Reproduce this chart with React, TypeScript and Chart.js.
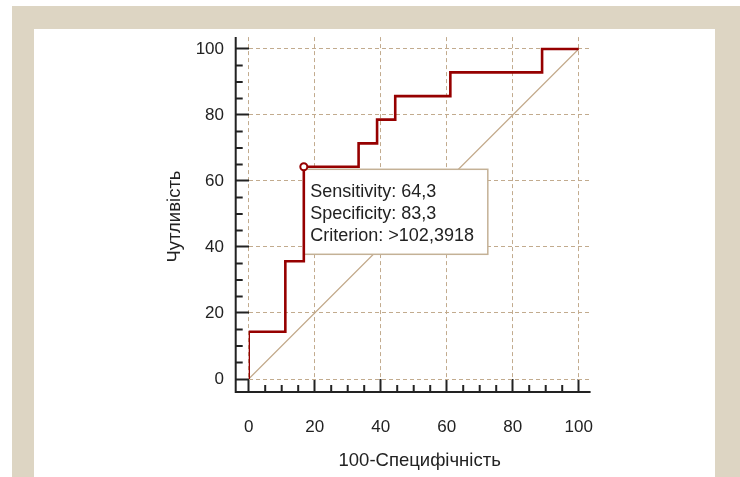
import React, { useEffect, useRef } from "react";
import { Chart, registerables } from "chart.js";

Chart.register(...registerables);

// ROC corner points (100-Specificity, Sensitivity); drawn as a step line
const rocFpr = [0, 11.1, 16.7, 33.3, 38.9, 44.4, 61.1, 88.9, 100];
const rocTpr = [0, 14.3, 35.7, 64.3, 71.4, 78.6, 85.7, 92.9, 100];
// Reference diagonal
const diagX = [0, 100];
const diagY = [0, 100];
// Optimal criterion
const critSensitivity = 64.3;
const critSpecificity = 83.3;
const critCriterion = ">102,3918";
// Axes
const axisMin = 0;
const axisMax = 103.6;
const majorStep = 20;
const minorStep = 5;
const xTitle = "100-Специфічність";
const yTitle = "Чутливість";

const FONT = "'Liberation Sans', Arial, sans-serif";
const TEXT = "#222222";
const GRID = "#c2ab8e";
const RED = "#960000";

const fmt = (v: number) => v.toFixed(1).replace(".", ",");

export default function App() {
  const ref = useRef<HTMLCanvasElement | null>(null);

  useEffect(() => {
    const canvas = ref.current;
    if (!canvas) return;

    const bgPlugin = {
      id: "bg",
      beforeDraw(chart: any) {
        const c = chart.ctx;
        c.save();
        c.fillStyle = "#ffffff";
        c.fillRect(0, 0, chart.width, chart.height);
        c.fillStyle = "#ddd5c3";
        c.fillRect(12, 6, chart.width - 12, chart.height - 6);
        c.fillStyle = "#ffffff";
        c.fillRect(34, 29, 715 - 34, chart.height - 29);
        c.restore();
      },
    };

    const axesPlugin = {
      id: "axesDeco",
      beforeDatasetDraw(chart: any, args: any) {
        if (args.index !== 1) return;
        // criterion info box, anchored at the criterion point
        const xs = chart.scales.x;
        const ys = chart.scales.y;
        const px = xs.getPixelForValue(100 - critSpecificity);
        const py = ys.getPixelForValue(critSensitivity);
        const c = chart.ctx;
        const bx = px;
        const by = py + 2.5;
        const bw = 184;
        const bh = 85;
        c.save();
        c.fillStyle = "#ffffff";
        c.fillRect(bx, by, bw, bh);
        c.strokeStyle = "#c4b196";
        c.lineWidth = 1.5;
        c.strokeRect(bx, by, bw, bh);
        c.fillStyle = TEXT;
        c.font = `18px ${FONT}`;
        c.textBaseline = "middle";
        c.textAlign = "left";
        const lines = [
          `Sensitivity: ${fmt(critSensitivity)}`,
          `Specificity: ${fmt(critSpecificity)}`,
          `Criterion: ${critCriterion}`,
        ];
        lines.forEach((t, i) => c.fillText(t, bx + 6.5, by + 22.3 + i * 22));
        c.restore();
      },
      afterDraw(chart: any) {
        const { left, right, top, bottom } = chart.chartArea;
        const xs = chart.scales.x;
        const ys = chart.scales.y;
        const c = chart.ctx;
        const ax = left - 13;
        const ay = bottom + 13;
        c.save();
        c.strokeStyle = TEXT;
        c.lineWidth = 2;
        c.lineCap = "butt";
        c.beginPath();
        c.moveTo(ax, ay + 1);
        c.lineTo(ax, top);
        c.moveTo(ax - 1, ay);
        c.lineTo(right, ay);
        for (let v = minorStep; v <= 100; v += minorStep) {
          if (v % majorStep === 0) continue;
          const yp = ys.getPixelForValue(v);
          c.moveTo(ax, yp);
          c.lineTo(ax + 7, yp);
          const xp = xs.getPixelForValue(v);
          c.moveTo(xp, ay);
          c.lineTo(xp, ay - 7);
        }
        c.stroke();
        // y title
        c.fillStyle = TEXT;
        c.font = `18.5px ${FONT}`;
        c.textAlign = "center";
        c.textBaseline = "middle";
        c.translate(174.5, (top + bottom) / 2 + 8.5);
        c.rotate(-Math.PI / 2);
        c.fillText(yTitle, 0, 0);
        c.restore();
      },
    };

    const scaleCommon = (isX: boolean) => ({
      type: "linear" as const,
      min: axisMin,
      max: axisMax,
      ticks: {
        stepSize: majorStep,
        includeBounds: false,
        color: TEXT,
        font: { family: FONT, size: 17 },
        padding: isX ? 24.8 : 11.7,
        maxRotation: 0,
        callback: (v: any) => String(v),
      },
      grid: {
        color: GRID,
        lineWidth: 1,
        drawTicks: true,
        tickLength: 13,
        tickWidth: 2,
        tickColor: TEXT,
      },
      border: { display: false, dash: [4, 3] },
    });

    const chart = new Chart(canvas, {
      type: "line",
      data: {
        datasets: [
          {
            label: "criterion",
            data: [{ x: 100 - critSpecificity, y: critSensitivity }],
            showLine: false,
            pointRadius: 3.5,
            pointBackgroundColor: "#ffffff",
            pointBorderColor: RED,
            pointBorderWidth: 2,
          },
          {
            label: "ROC",
            data: rocFpr.map((x, i) => ({ x, y: rocTpr[i] })),
            borderColor: RED,
            borderWidth: 2.6,
            stepped: "after",
            pointRadius: 0,
            fill: false,
            borderJoinStyle: "miter",
          },
          {
            label: "diag",
            data: diagX.map((x, i) => ({ x, y: diagY[i] })),
            borderColor: "#c2a98a",
            borderWidth: 1.2,
            pointRadius: 0,
            fill: false,
          },
        ],
      },
      options: {
        responsive: false,
        animation: false,
        devicePixelRatio: 1,
        layout: { padding: { left: 150, right: 149.4, top: 37.1, bottom: 0 } },
        plugins: {
          legend: { display: false },
          tooltip: { enabled: false },
        },
        scales: {
          x: {
            ...scaleCommon(true),
            position: "bottom",
            title: {
              display: true,
              text: xTitle,
              color: TEXT,
              font: { family: FONT, size: 18.5 },
              padding: { top: 0, bottom: 4.9 },
            },
            afterFit: (s: any) => {
              s.height = 98;
            },
          },
          y: {
            ...scaleCommon(false),
            position: "left",
            afterFit: (s: any) => {
              s.width = 98.7;
            },
          },
        },
      } as any,
      plugins: [bgPlugin, axesPlugin],
    });

    return () => chart.destroy();
  }, []);

  return (
    <div style={{ position: "fixed", left: 0, top: 0, width: 740, height: 477 }}>
      <canvas ref={ref} width={740} height={477} style={{ display: "block" }} />
    </div>
  );
}
